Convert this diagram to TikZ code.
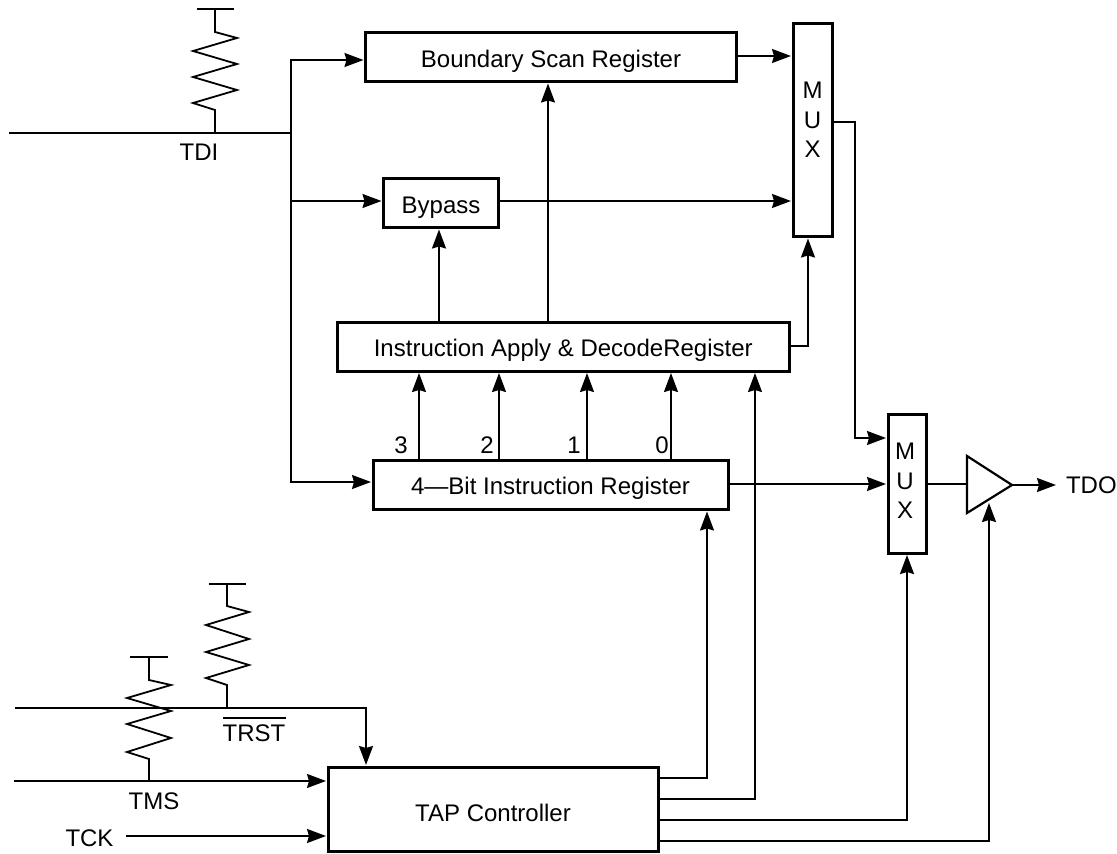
\documentclass[tikz,border=0pt]{standalone}
\usepackage{fontspec}
\setmainfont{Liberation Sans}
\usetikzlibrary{arrows.meta,calc}
\tikzset{
  lbl/.style={font=\fontsize{24}{29.5}\selectfont,inner sep=0pt,outer sep=0pt},
  wire/.style={line width=1.8pt,line join=miter},
  arr/.style={wire,-{Stealth[length=19pt,width=14pt,inset=2pt]},shorten >=2pt},
  blk/.style={draw,line width=3pt,fill=white,inner sep=0pt,outer sep=0pt,font=\fontsize{24}{29.5}\selectfont,align=center,anchor=north west,text depth=0pt},
  zig/.style={line width=1.8pt,line join=miter}
}
\begin{document}
\begin{tikzpicture}[x=1pt,y=-1pt]
\useasboundingbox[fill=white] (0,0) rectangle (1117,854);
% blocks
\node[blk,minimum width=371pt,minimum height=49pt,text height=21.5pt] (bsr) at (365.5,32.5) {Boundary Scan Register};
\node[blk,minimum width=115pt,minimum height=49.5pt,text height=21pt] (byp) at (383.5,178) {Bypass};
\node[blk,minimum width=39pt,minimum height=213.5pt] (mux1) at (793,23) {};
\node[lbl,align=center] (mux1t) at (812.5,120) {M\\U\\X};
\node[blk,minimum width=451.5pt,minimum height=49pt,text height=19pt] (iad) at (337.5,322) {Instruction Apply \& DecodeRegister};
\node[blk,minimum width=355pt,minimum height=49pt,text height=18pt] (ir) at (373,460.5) {4—Bit Instruction Register};
\node[blk,minimum width=38pt,minimum height=139pt] (mux2) at (888,414) {};
\node[lbl,align=center] (mux2t) at (905,481) {M\\U\\X};
\node[blk,minimum width=330pt,minimum height=84pt,text height=24pt] (tap) at (328,767) {TAP Controller};
% buffer
\coordinate (bufa) at (967,456);
\coordinate (bufb) at (967,513);
\coordinate (buftip) at (1012,485);
\draw[line width=2.2pt,line join=miter] (bufa) -- (buftip) -- (bufb) -- cycle;
% labels
\node[lbl,anchor=base] (tdi) at (199,160) {TDI};
\node[lbl,anchor=base] (tms) at (154,809) {TMS};
\node[lbl,anchor=base] (tck) at (89.5,846) {TCK};
\node[lbl,anchor=base west] (tdo) at (1066,493) {TDO};
\node[lbl,anchor=base] (trst) at (254,741) {\rlap{\raisebox{22.5pt}{\rule{63pt}{1.8pt}}}TRST};
\node[lbl,anchor=base] (n3) at (401,453) {3};
\node[lbl,anchor=base] (n2) at (487,453) {2};
\node[lbl,anchor=base] (n1) at (574,453) {1};
\node[lbl,anchor=base] (n0) at (662,453) {0};
% free ends and junctions
\coordinate (tdiin) at (9,133);
\coordinate (tdij) at (291,133);
\coordinate (trstin) at (15,708);
\coordinate (trstc) at (366,708);
\coordinate (tmsin) at (14,781);
\coordinate (tckin) at (126,836);
\coordinate (tdoend) at (1058,485);
% TDI bus
\draw[wire] (tdiin) -- (tdij);
\draw[arr] (tdij) -- (291,60) -- (bsr.west |- 0,60);
\draw[arr] (291,201) -- (byp.west |- 0,201);
\draw[arr] (tdij) -- (291,482) -- (ir.west |- 0,482);
% to MUX 1
\draw[arr] (bsr.east |- 0,56) -- (mux1.west |- 0,56);
\draw[arr] (byp.east |- 0,201) -- (mux1.west |- 0,201);
\draw[arr] (iad.east |- 0,346) -- (808,346) -- (mux1.south -| 808,0);
% MUX 1 to MUX 2
\draw[arr] (mux1.east |- 0,122) -- (855,122) -- (855,438) -- (mux2.west |- 0,438);
\draw[arr] (ir.east |- 0,484) -- (mux2.west |- 0,484);
\draw[wire] (mux2.east |- 0,484) -- (bufa |- 0,484);
\draw[arr] (buftip) -- (tdoend);
% decode connections
\draw[arr] (iad.north -| 439,0) -- (byp.south -| 439,0);
\draw[arr] (iad.north -| 548,0) -- (bsr.south -| 548,0);
\draw[arr] (ir.north -| 419,0) -- (iad.south -| 419,0);
\draw[arr] (ir.north -| 499,0) -- (iad.south -| 499,0);
\draw[arr] (ir.north -| 587,0) -- (iad.south -| 587,0);
\draw[arr] (ir.north -| 671,0) -- (iad.south -| 671,0);
% TAP outputs
\draw[arr] (tap.east |- 0,778) -- (707,778) -- (ir.south -| 707,0);
\draw[arr] (tap.east |- 0,799) -- (755,799) -- (iad.south -| 755,0);
\draw[arr] (tap.east |- 0,820) -- (907,820) -- (mux2.south -| 907,0);
\draw[arr] (tap.east |- 0,841) -- (989,841) -- (989,501);
% TAP inputs
\draw[arr] (trstin) -- (trstc) -- (trstc |- tap.north);
\draw[arr] (tmsin) -- (tap.west |- 0,781);
\draw[arr] (tckin) -- (tap.west |- 0,836);
% pull-ups
\draw[zig] (197,9) -- (234,9);
\draw[zig] (215,9) -- (215,32) -- (237,38) -- (193,51) -- (237,64) -- (193,77) -- (237,90) -- (193,103) -- (215,110) -- (215,133);
\draw[zig] (130,657) -- (168,657);
\draw[zig] (149,657) -- (149,680) -- (171,685) -- (127,698) -- (171,711) -- (127,724) -- (171,738) -- (127,752) -- (149,759) -- (149,781);
\draw[zig] (209,584) -- (246,584);
\draw[zig] (227,584) -- (227,606) -- (249,612) -- (206,625) -- (249,639) -- (206,652) -- (249,665) -- (206,678) -- (227,685) -- (227,708);
\end{tikzpicture}
\end{document}
